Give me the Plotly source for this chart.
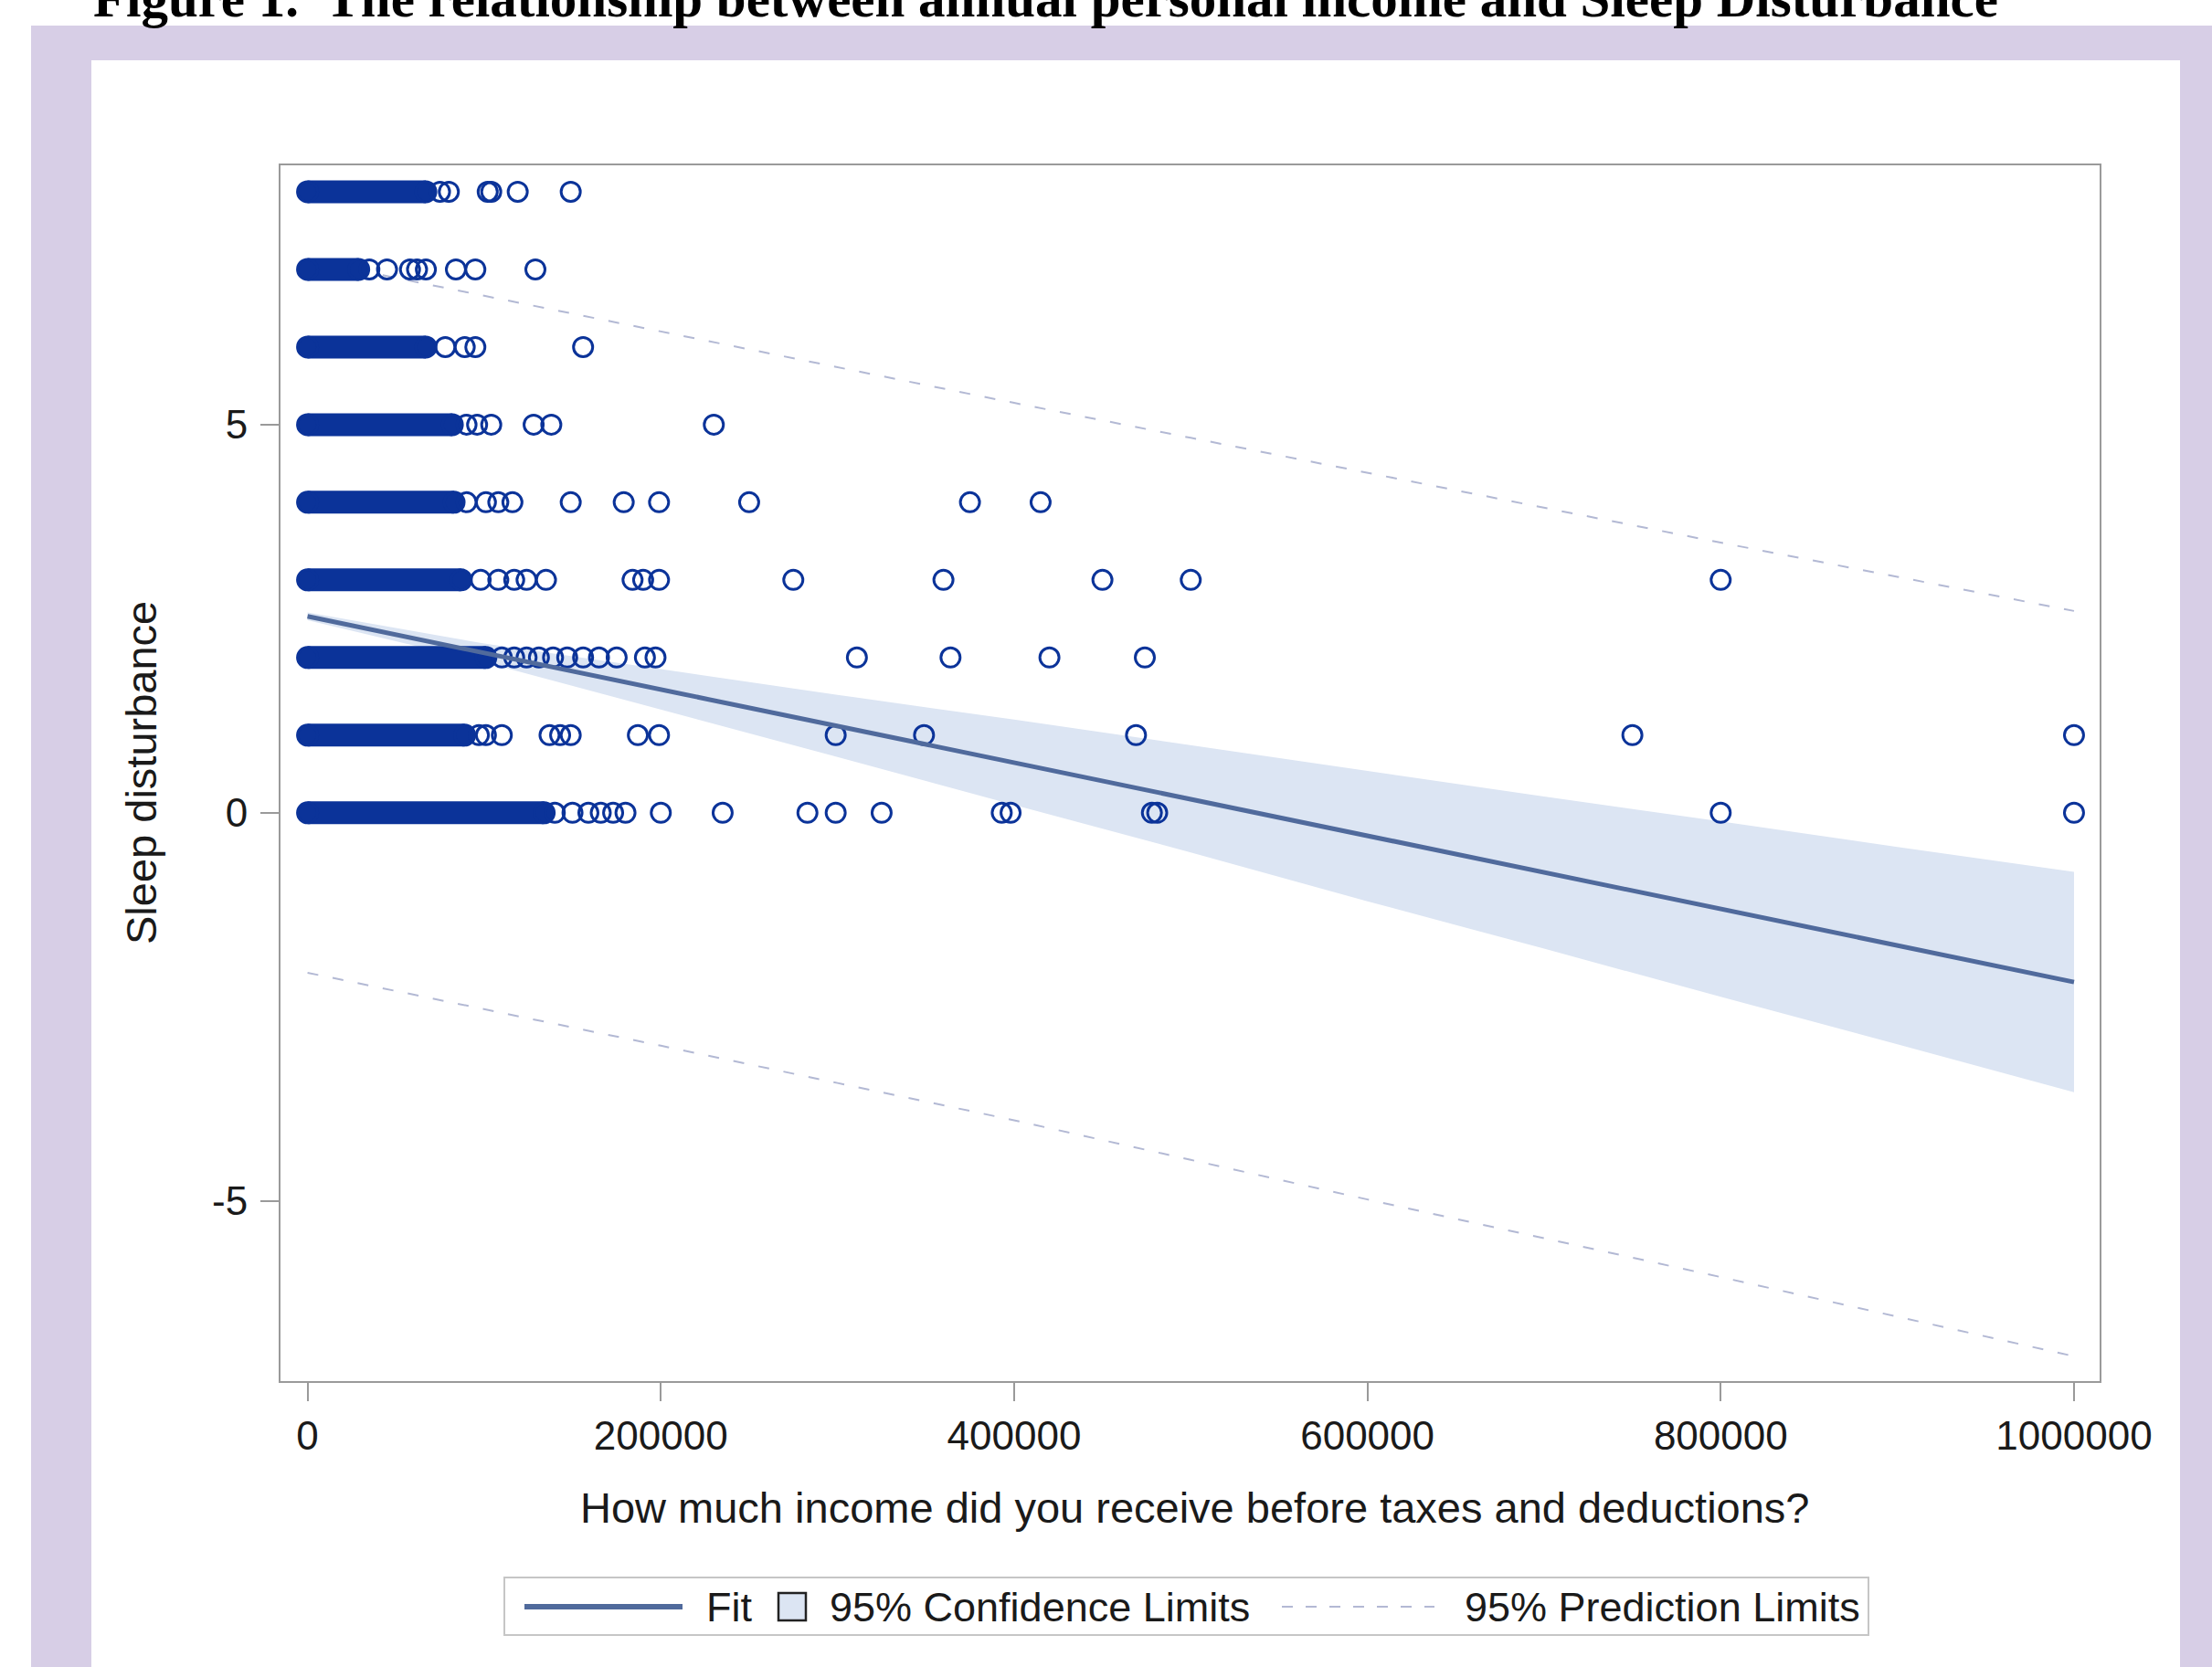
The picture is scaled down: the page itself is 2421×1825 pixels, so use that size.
import plotly.graph_objects as go

# ---------------------------------------------------------------------------
# Data: sleep disturbance score (0-8) against annual personal income
# ---------------------------------------------------------------------------
levels = [8, 7, 6, 5, 4, 3, 2, 1, 0]
# upper income of the dense block of respondents at each score level
dense_max_income = [67000, 29000, 67000, 82000, 83000, 87000, 101000, 89000, 134000]

# individual respondents lying beyond the dense block, per score level
outliers_8 = [75000, 80000, 102000, 104000, 119000, 149000]
outliers_7 = [35000, 45000, 58000, 62000, 67000, 84000, 95000, 129000]
outliers_6 = [78000, 89000, 95000, 156000]
outliers_5 = [90000, 96000, 104000, 128000, 138000, 230000]
outliers_4 = [90000, 101000, 108000, 116000, 149000, 179000, 199000, 250000,
              375000, 415000]
outliers_3 = [98000, 108000, 117000, 124000, 135000, 184000, 190000, 199000,
              275000, 360000, 450000, 500000, 800000]
outliers_2 = [110000, 117000, 124000, 131000, 139000, 147000, 156000, 165000,
              175000, 191000, 197000, 311000, 364000, 420000, 474000]
outliers_1 = [97000, 101000, 110000, 137000, 143000, 149000, 187000, 199000,
              299000, 349000, 469000, 750000, 1000000]
outliers_0 = [140000, 150000, 159000, 166000, 173000, 180000, 200000, 235000,
              283000, 299000, 325000, 393000, 398000, 478000, 481000,
              800000, 1000000]
outliers = {8: outliers_8, 7: outliers_7, 6: outliers_6, 5: outliers_5,
            4: outliers_4, 3: outliers_3, 2: outliers_2, 1: outliers_1,
            0: outliers_0}

# regression fit with 95% confidence and prediction limits
fit_income = [0, 100000, 200000, 300000, 400000, 500000, 600000, 700000,
              800000, 900000, 1000000]
fit_value = [2.53, 2.06, 1.59, 1.12, 0.65, 0.18, -0.30, -0.77, -1.24, -1.71, -2.18]
clm_upper = [2.58, 2.18, 1.85, 1.52, 1.20, 0.87, 0.54, 0.21, -0.11, -0.44, -0.76]
clm_lower = [2.48, 1.94, 1.33, 0.72, 0.10, -0.51, -1.14, -1.75, -2.37, -2.98, -3.60]
plm_upper = [7.12, 6.66, 6.20, 5.74, 5.28, 4.83, 4.38, 3.93, 3.48, 3.04, 2.60]
plm_lower = [-2.06, -2.53, -3.00, -3.48, -3.96, -4.47, -4.98, -5.48, -5.98, -6.49, -7.00]

x_tickvals = [0, 200000, 400000, 600000, 800000, 1000000]
x_ticktext = ["0", "200000", "400000", "600000", "800000", "1000000"]
y_tickvals = [-5, 0, 5]
y_ticktext = ["-5", "0", "5"]

title_text = "Figure 1.\u00a0 The relationship between annual personal income and Sleep Disturbance"
x_title = "How much income did you receive before taxes and deductions?"
y_title = "Sleep disturbance"
legend_labels = ["Fit", "95% Confidence Limits", "95% Prediction Limits"]

# ---------------------------------------------------------------------------
# Style
# ---------------------------------------------------------------------------
W, H = 2421, 1825
L, R, T, B = 307, 123, 181, 313
MARKER = "#0b3399"
FIT = "#506a9c"
BAND = "#dce5f3"
PRED = "#b3b9d4"
FRAME = "#9a9a9a"
LAVENDER = "#d7cee6"
SANS = "Liberation Sans, Arial, sans-serif"
SERIF = "Liberation Serif, Times New Roman, serif"


def px(xp):
    return (xp - L) / (W - L - R)


def py(yp):
    return (H - B - yp) / (H - T - B)


fig = go.Figure()

# confidence band
fig.add_trace(go.Scatter(
    x=fit_income + fit_income[::-1],
    y=clm_upper + clm_lower[::-1],
    fill="toself", fillcolor=BAND, line=dict(width=0),
    mode="lines", hoverinfo="skip", showlegend=False))

# prediction limits
for lim in (plm_upper, plm_lower):
    fig.add_trace(go.Scatter(
        x=fit_income, y=lim, mode="lines",
        line=dict(color=PRED, width=2, dash="12px,16px"),
        showlegend=False))

# dense blocks of respondents (solid runs of overlapping circles)
dx, dy = [], []
for lv, hi in zip(levels, dense_max_income):
    dx += [0, hi, None]
    dy += [lv, lv, None]
fig.add_trace(go.Scatter(x=dx, y=dy, mode="lines",
                         line=dict(color=MARKER, width=25),
                         showlegend=False))
cx, cy = [], []
for lv, hi in zip(levels, dense_max_income):
    cx += [0, hi]
    cy += [lv, lv]
fig.add_trace(go.Scatter(x=cx, y=cy, mode="markers",
                         marker=dict(symbol="circle", size=22, color=MARKER,
                                     line=dict(color=MARKER, width=3)),
                         showlegend=False))

# sparse respondents
ox, oy = [], []
for lv in levels:
    ox += outliers[lv]
    oy += [lv] * len(outliers[lv])
fig.add_trace(go.Scatter(x=ox, y=oy, mode="markers",
                         marker=dict(symbol="circle-open", size=21, color=MARKER,
                                     line=dict(color=MARKER, width=3)),
                         showlegend=False))

# fitted regression line
fig.add_trace(go.Scatter(x=fit_income, y=fit_value, mode="lines",
                         line=dict(color=FIT, width=5), showlegend=False))

axis_common = dict(showline=True, mirror=True, linecolor=FRAME, linewidth=2,
                   ticks="outside", ticklen=20, tickwidth=2, tickcolor=FRAME,
                   showgrid=False, zeroline=False,
                   tickfont=dict(family=SANS, size=44, color="#1a1a1a"))

fig.update_xaxes(range=[-15300, 1014500], tickvals=x_tickvals,
                 ticktext=x_ticktext, **axis_common)
fig.update_yaxes(range=[-7.32, 8.34], tickvals=y_tickvals,
                 ticktext=y_ticktext, ticklabelstandoff=5, **axis_common)

shapes = [
    # lavender frame and white panel behind the chart
    dict(type="rect", xref="paper", yref="paper", layer="below",
         x0=px(34), x1=px(W + 20), y0=py(28), y1=py(H + 20),
         fillcolor=LAVENDER, line=dict(width=0)),
    dict(type="rect", xref="paper", yref="paper", layer="below",
         x0=px(100), x1=px(2386), y0=py(66), y1=py(H + 20),
         fillcolor="white", line=dict(width=0)),
    # legend box
    dict(type="rect", xref="paper", yref="paper",
         x0=px(552), x1=px(2045), y0=py(1727), y1=py(1790),
         fillcolor="white", line=dict(color="#c6c6c6", width=2)),
    dict(type="line", xref="paper", yref="paper",
         x0=px(574), x1=px(747), y0=py(1759), y1=py(1759),
         line=dict(color=FIT, width=6)),
    dict(type="rect", xref="paper", yref="paper",
         x0=px(852), x1=px(882), y0=py(1744), y1=py(1774),
         fillcolor=BAND, line=dict(color="#222222", width=2.5)),
    dict(type="line", xref="paper", yref="paper",
         x0=px(1403), x1=px(1570), y0=py(1759), y1=py(1759),
         line=dict(color=PRED, width=2, dash="12px,14px")),
]

annotations = [
    dict(text=title_text, xref="paper", yref="paper", x=px(100), y=py(-2),
         xanchor="left", yanchor="middle", showarrow=False,
         font=dict(family=SERIF, size=59, color="black", weight="bold")),
    dict(text=x_title, xref="paper", yref="paper", x=px(1308), y=py(1650),
         xanchor="center", yanchor="middle", showarrow=False,
         font=dict(family=SANS, size=47, color="#1a1a1a")),
    dict(text=y_title, xref="paper", yref="paper", x=px(154), y=py(846),
         xanchor="center", yanchor="middle", showarrow=False, textangle=-90,
         font=dict(family=SANS, size=47, color="#1a1a1a")),
]
for label, xp in zip(legend_labels, [771, 906, 1601]):
    annotations.append(dict(text=label, xref="paper", yref="paper",
                            x=px(xp), y=py(1759), xanchor="left",
                            yanchor="middle", showarrow=False,
                            font=dict(family=SANS, size=45, color="#1a1a1a")))

fig.update_layout(width=W, height=H,
                  margin=dict(l=L, r=R, t=T, b=B, pad=0),
                  paper_bgcolor="white", plot_bgcolor="white",
                  shapes=shapes, annotations=annotations,
                  showlegend=False)

fig.write_html("out.html")
